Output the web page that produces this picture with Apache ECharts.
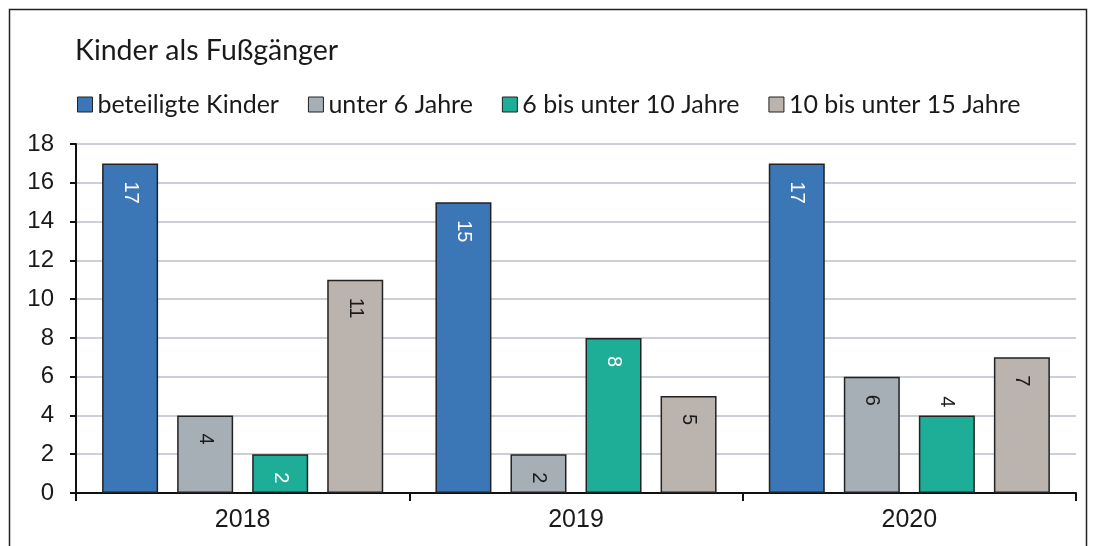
<!DOCTYPE html>
<html>
<head>
<meta charset="utf-8">
<script src="https://cdn.jsdelivr.net/npm/echarts@6/dist/echarts.min.js"></script>
<style>
  html, body { margin: 0; padding: 0; background: #fff; }
  #chart { width: 1097px; height: 546px; }
</style>
</head>
<body>
<div id="chart"></div>
<script>
// data
const years = ['2018', '2019', '2020']
const seriesNames = ['beteiligte Kinder', 'unter 6 Jahre', '6 bis unter 10 Jahre', '10 bis unter 15 Jahre']
const beteiligteKinder = [17, 15, 17]
const unter6 = [4, 2, 6]
const von6bis10 = [2, 8, 4]
const von10bis15 = [11, 5, 7]
const yTicks = [0, 2, 4, 6, 8, 10, 12, 14, 16, 18]

const colors = ['#3b76b6', '#a6aeb6', '#1eae98', '#bbb3ad']
const labelColors = ['#fff', '#1a1a1a', '#fff', '#1a1a1a']
const font = 'Lato, "Noto Sans", sans-serif'
const numFont = '"Liberation Sans", Arial, sans-serif'

const chart = echarts.init(document.getElementById('chart'))

function insideLabel(color) {
  return {
    show: true,
    position: 'insideTop',
    rotate: -90,
    align: 'left',
    verticalAlign: 'middle',
    distance: 18,
    color: color,
    fontSize: 20,
    fontFamily: numFont
  }
}

// the 2020 green bar has its label above the bar
function buildData(values, idx) {
  return values.map(function (v, j) {
    if (idx === 2 && j === 2) {
      return {
        value: v,
        label: { position: 'top', align: 'right', distance: 8, color: '#1a1a1a' }
      }
    }
    return v
  })
}

const allValues = [beteiligteKinder, unter6, von6bis10, von10bis15]

chart.setOption({
  animation: false,
  textStyle: { fontFamily: font },
  graphic: [{
    type: 'rect',
    shape: { x: 9.5, y: 9.5, width: 1077, height: 560 },
    style: { fill: 'none', stroke: '#222', lineWidth: 1.5 },
    silent: true
  }],
  title: {
    text: 'Kinder als Fußgänger',
    left: 70,
    top: 31,
    textStyle: { fontSize: 28.5, fontWeight: 'normal', color: '#1a1a1a', fontFamily: font }
  },
  legend: {
    left: 72,
    top: 87,
    itemWidth: 15,
    itemHeight: 15,
    itemGap: 29,
    icon: 'rect',
    textStyle: { fontSize: 25, color: '#1a1a1a', fontFamily: font },
    data: seriesNames.map(function (n) {
      return { name: n, itemStyle: { borderColor: '#222', borderWidth: 1 } }
    })
  },
  grid: { left: 76, right: 21, top: 144, bottom: 53 },
  xAxis: {
    type: 'category',
    data: years,
    axisLine: { lineStyle: { color: '#111', width: 2 } },
    axisTick: { show: true, length: 8, lineStyle: { color: '#111', width: 2 } },
    axisLabel: { fontSize: 25, color: '#1a1a1a', margin: 15, fontFamily: numFont }
  },
  yAxis: {
    type: 'value',
    min: yTicks[0],
    max: yTicks[yTicks.length - 1],
    interval: 2,
    axisLine: { show: true, lineStyle: { color: '#111', width: 2 } },
    axisTick: { show: true, length: 6, lineStyle: { color: '#111', width: 2 } },
    axisLabel: { fontSize: 24, color: '#1a1a1a', margin: 22, fontFamily: numFont },
    splitLine: { lineStyle: { color: '#b9c0c9', width: 1.5 } }
  },
  series: allValues.map(function (vals, i) {
    return {
      name: seriesNames[i],
      type: 'bar',
      barWidth: 56,
      barGap: '34%',
      itemStyle: { color: colors[i], borderColor: '#222', borderWidth: 1.5 },
      label: insideLabel(labelColors[i]),
      data: buildData(vals, i)
    }
  })
})
</script>
</body>
</html>
